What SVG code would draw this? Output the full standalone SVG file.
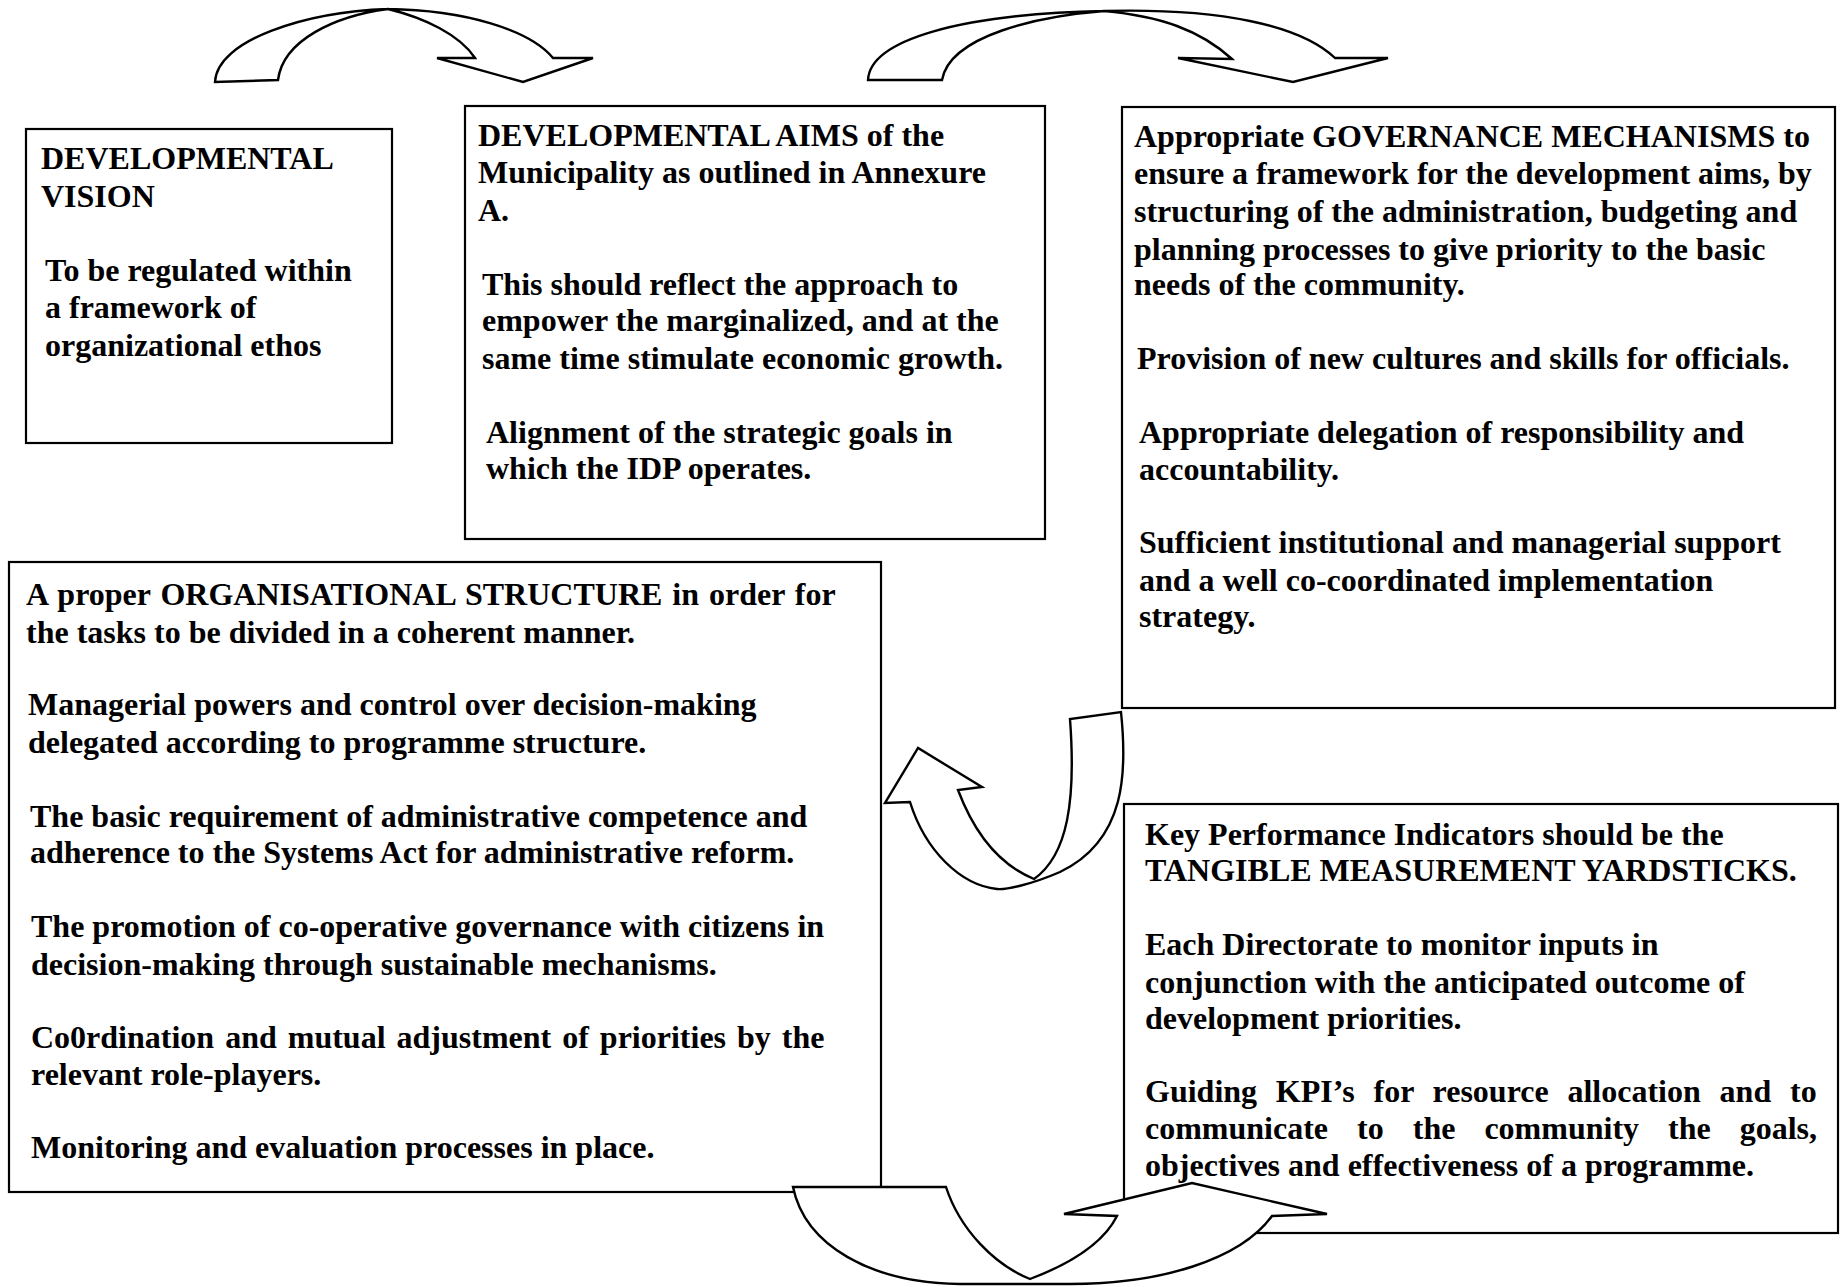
<svg xmlns="http://www.w3.org/2000/svg" width="1842" height="1287" viewBox="0 0 1842 1287">
<style>
.box{fill:#fff;stroke:#000;stroke-width:2.2}
.arrow{fill:#fff;stroke:#000;stroke-width:2.4;stroke-linejoin:miter}
.t{font-family:"Liberation Serif","Times New Roman",serif;font-size:32px;font-weight:bold;fill:#000}
</style>
<rect width="1842" height="1287" fill="#fff"/>
<g id="node-vision">
<rect class="box" x="26" y="129" width="366" height="314"/>
<text class="t" x="41" y="169">DEVELOPMENTAL</text>
<text class="t" x="41" y="207">VISION</text>
<text class="t" x="45" y="281">To be regulated within</text>
<text class="t" x="45" y="318">a framework of</text>
<text class="t" x="45" y="356">organizational ethos</text>
</g>
<g id="node-aims">
<rect class="box" x="465" y="106" width="580" height="433"/>
<text class="t" x="478" y="146">DEVELOPMENTAL AIMS of the</text>
<text class="t" x="478" y="183">Municipality as outlined in Annexure</text>
<text class="t" x="478" y="221">A.</text>
<text class="t" x="482" y="295">This should reflect the approach to</text>
<text class="t" x="482" y="331">empower the marginalized, and at the</text>
<text class="t" x="482" y="369">same time stimulate economic growth.</text>
<text class="t" x="486" y="443">Alignment of the strategic goals in</text>
<text class="t" x="486" y="479">which the IDP operates.</text>
</g>
<g id="node-governance">
<rect class="box" x="1122" y="107" width="713" height="601"/>
<text class="t" x="1134" y="147">Appropriate GOVERNANCE MECHANISMS to</text>
<text class="t" x="1134" y="184">ensure a framework for the development aims, by</text>
<text class="t" x="1134" y="222">structuring of the administration, budgeting and</text>
<text class="t" x="1134" y="260">planning processes to give priority to the basic</text>
<text class="t" x="1134" y="295">needs of the community.</text>
<text class="t" x="1137" y="369">Provision of new cultures and skills for officials.</text>
<text class="t" x="1139" y="443">Appropriate delegation of responsibility and</text>
<text class="t" x="1139" y="480">accountability.</text>
<text class="t" x="1139" y="553">Sufficient institutional and managerial support</text>
<text class="t" x="1139" y="591">and a well co-coordinated implementation</text>
<text class="t" x="1139" y="627">strategy.</text>
</g>
<g id="node-structure">
<rect class="box" x="9" y="562" width="872" height="630"/>
<text class="t" x="26" y="605" word-spacing="2">A proper ORGANISATIONAL STRUCTURE in order for</text>
<text class="t" x="26" y="643">the tasks to be divided in a coherent manner.</text>
<text class="t" x="28" y="715">Managerial powers and control over decision-making</text>
<text class="t" x="28" y="753">delegated according to programme structure.</text>
<text class="t" x="30" y="827">The basic requirement of administrative competence and</text>
<text class="t" x="30" y="863">adherence to the Systems Act for administrative reform.</text>
<text class="t" x="31" y="937">The promotion of co-operative governance with citizens in</text>
<text class="t" x="31" y="975">decision-making through sustainable mechanisms.</text>
<text class="t" x="31" y="1048" word-spacing="3">Co0rdination and mutual adjustment of priorities by the</text>
<text class="t" x="31" y="1085">relevant role-players.</text>
<text class="t" x="31" y="1158">Monitoring and evaluation processes in place.</text>
</g>
<g id="node-kpi">
<rect class="box" x="1124" y="804" width="714" height="429"/>
<text class="t" x="1145" y="845">Key Performance Indicators should be the</text>
<text class="t" x="1145" y="881">TANGIBLE MEASUREMENT YARDSTICKS.</text>
<text class="t" x="1145" y="955">Each Directorate to monitor inputs in</text>
<text class="t" x="1145" y="993">conjunction with the anticipated outcome of</text>
<text class="t" x="1145" y="1029">development priorities.</text>
<text class="t" x="1145" y="1102" word-spacing="10.8">Guiding KPI’s for resource allocation and to</text>
<text class="t" x="1145" y="1139" word-spacing="21">communicate to the community the goals,</text>
<text class="t" x="1145" y="1176">objectives and effectiveness of a programme.</text>
</g>
<g id="connectors">
<path class="arrow" d="M215,82 C217,40 305,12 388,9 C465,10 530,30 553,58 L593,58 L523,82 L437,58 L475,58 C460,35 425,18 388,9 C335,16 283,40 278,80 Z"/>
<path class="arrow" d="M868,80 C870,40 960,14 1104,11 C1220,8 1300,25 1335,58 L1388,58 L1293,82 L1178,58 L1232,59 C1200,30 1160,16 1104,11 C1040,16 950,35 942,80 Z"/>
<path class="arrow" d="M1121,712 C1127,770 1127,840 1060,872 C1030,885 1005,890 997,889 C960,885 925,850 910,802 L885,803 L918,748 L982,787 L958,790 C975,835 1000,865 1034,879 C1068,855 1076,800 1070,719 Z"/>
<path class="arrow" d="M793,1187 L946,1187 C960,1230 995,1265 1030,1279 C1075,1262 1105,1240 1117,1216 L1064,1214 L1192,1183 L1327,1214 L1272,1216 C1240,1260 1160,1284 1070,1284 L960,1284 C870,1283 805,1245 793,1187 Z"/>
</g>
</svg>
